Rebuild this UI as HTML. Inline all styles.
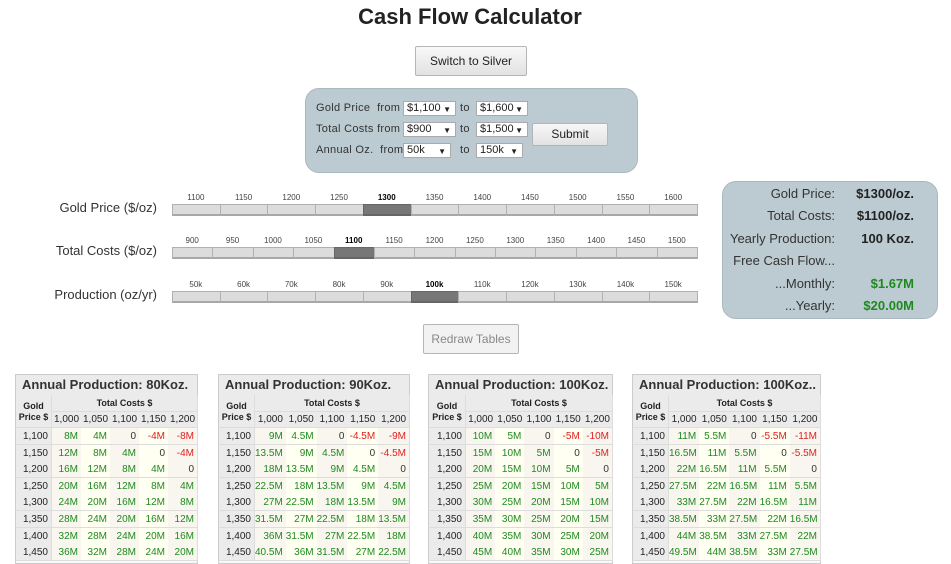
<!DOCTYPE html>
<html><head><meta charset="utf-8">
<style>
body{margin:0;width:951px;height:563px;overflow:hidden;background:#fff;font-family:"Liberation Sans",sans-serif;position:relative;color:#222}
.abs{position:absolute}
.btn{position:absolute;border:1px solid #b5b5b5;border-radius:2px;background:linear-gradient(#f8f8f8,#e2e2e2);font-size:12px;text-align:center;box-sizing:border-box}
.panel{position:absolute;background:#bccbd1;border:1px solid #a9b8be;border-radius:14px;box-sizing:border-box}
.sel{position:absolute;height:15px;border:1px solid #aaa;background:#fff;font-size:11px;box-sizing:border-box;padding:0 0 0 3px;line-height:13px}
.sel:after{content:"▼";position:absolute;right:4px;top:1px;font-size:8px}
.lbl{position:absolute;font-size:11px;color:#333;letter-spacing:.3px}
.slab{position:absolute;font-size:13px;color:#333;text-align:right;width:160px}
.seg{position:absolute;background:#dcdcdc;border:1px solid #b0b0b0;border-bottom:2px solid #a8a8a8;box-sizing:border-box}
.seg.on{background:#777;border-color:#666}
.tick{position:absolute;font-size:8px;color:#444;text-align:center;width:40px}
.tick.on{font-weight:bold;color:#000}
.sr{position:absolute;font-size:13px;color:#333}
.cell{position:absolute;box-sizing:border-box;border-right:1px solid #ddd;border-bottom:1px solid #ddd;font-size:11px;text-align:right;padding-right:3px;line-height:16px}
</style></head><body>
<div class="abs" style="left:0;width:940px;top:4px;text-align:center;font-size:22px;font-weight:bold;color:#222">Cash Flow Calculator</div>
<div class="btn" style="left:415px;top:46px;width:112px;height:30px;line-height:28px">Switch to Silver</div>

<div class="panel" style="left:305px;top:88px;width:333px;height:85px"></div>
<div class="lbl" style="left:316px;top:102px">Gold Price &nbsp;from</div>
<div class="sel" style="left:403px;top:101px;width:53px">$1,100</div>
<div class="lbl" style="left:460px;top:102px">to</div>
<div class="sel" style="left:476px;top:101px;width:52px">$1,600</div>
<div class="lbl" style="left:316px;top:123px">Total Costs from</div>
<div class="sel" style="left:403px;top:122px;width:53px">$900</div>
<div class="lbl" style="left:460px;top:123px">to</div>
<div class="sel" style="left:476px;top:122px;width:52px">$1,500</div>
<div class="lbl" style="left:316px;top:144px">Annual Oz. &nbsp;from</div>
<div class="sel" style="left:403px;top:143px;width:48px">50k</div>
<div class="lbl" style="left:460px;top:144px">to</div>
<div class="sel" style="left:476px;top:143px;width:47px">150k</div>
<div class="btn" style="left:532px;top:123px;width:76px;height:23px;line-height:21px">Submit</div>

<div class="slab" style="left:-3px;top:200px">Gold Price ($/oz)</div>
<div class="slab" style="left:-3px;top:243px">Total Costs ($/oz)</div>
<div class="slab" style="left:-3px;top:287px">Production (oz/yr)</div>
<div id="sliders"></div>

<div class="panel" style="left:722px;top:181px;width:216px;height:138px"></div>
<div id="summary"></div>

<div class="btn" style="left:423px;top:324px;width:96px;height:30px;line-height:28px;color:#888;background:#f2f2f2">Redraw Tables</div>
<div id="tables"></div>

<script>
// slider data
const goldTicks=["1100","1150","1200","1250","1300","1350","1400","1450","1500","1550","1600"];
const costTicks=["900","950","1000","1050","1100","1150","1200","1250","1300","1350","1400","1450","1500"];
const prodTicks=["50k","60k","70k","80k","90k","100k","110k","120k","130k","140k","150k"];
const goldSel=4, costSel=4, prodSel=5;
function slider(name,ticks,sel,y){
  const c=document.getElementById('sliders');
  const x0=172,x1=697,w=(x1-x0)/ticks.length;
  ticks.forEach((t,i)=>{
    const s=document.createElement('div');
    
    
    s.className='seg'+(i===sel?' on':'');
    s.style.cssText=`left:${x0+i*w}px;top:${y}px;width:${w+1}px;height:12px`;
    c.appendChild(s);
    const l=document.createElement('div');
    
    
    l.className='tick'+(i===sel?' on':'');
    l.textContent=t;
    l.style.cssText=`left:${x0+i*w+w/2-20}px;top:${y-11}px`;
    c.appendChild(l);
  });
}
slider('gold-price',goldTicks,goldSel,204);
slider('total-costs',costTicks,costSel,247);
slider('production',prodTicks,prodSel,291);

// summary
const sumLabels=["Gold Price:","Total Costs:","Yearly Production:","Free Cash Flow...","...Monthly:","...Yearly:"];
const sumValues=["$1300/oz.","$1100/oz.","100 Koz.","","$1.67M","$20.00M"];
const sc=document.getElementById('summary');
sumLabels.forEach((t,i)=>{
  const y=186+i*22.4;
  const a=document.createElement('div');
  
  
  a.className='sr';a.textContent=t;
  a.style.cssText=`left:700px;width:135px;text-align:right;top:${y}px`;
  sc.appendChild(a);
  const b=document.createElement('div');
  
  
  b.className='sr';b.textContent=sumValues[i];
  b.style.cssText=`left:820px;width:94px;text-align:right;top:${y}px;font-weight:bold;color:${i>=4?'#1e8a1e':'#222'}`;
  sc.appendChild(b);
});

// tables
const tablePrices=["1,100","1,150","1,200","1,250","1,300","1,350","1,400","1,450"];
const tableCosts=["1,000","1,050","1,100","1,150","1,200"];
const tableTitles=["Annual Production: 80Koz.","Annual Production: 90Koz.","Annual Production: 100Koz.","Annual Production: 100Koz.."];
const t1=[["8M","4M","0","-4M","-8M"],["12M","8M","4M","0","-4M"],["16M","12M","8M","4M","0"],["20M","16M","12M","8M","4M"],["24M","20M","16M","12M","8M"],["28M","24M","20M","16M","12M"],["32M","28M","24M","20M","16M"],["36M","32M","28M","24M","20M"]];
const t2=[["9M","4.5M","0","-4.5M","-9M"],["13.5M","9M","4.5M","0","-4.5M"],["18M","13.5M","9M","4.5M","0"],["22.5M","18M","13.5M","9M","4.5M"],["27M","22.5M","18M","13.5M","9M"],["31.5M","27M","22.5M","18M","13.5M"],["36M","31.5M","27M","22.5M","18M"],["40.5M","36M","31.5M","27M","22.5M"]];
const t3=[["10M","5M","0","-5M","-10M"],["15M","10M","5M","0","-5M"],["20M","15M","10M","5M","0"],["25M","20M","15M","10M","5M"],["30M","25M","20M","15M","10M"],["35M","30M","25M","20M","15M"],["40M","35M","30M","25M","20M"],["45M","40M","35M","30M","25M"]];
const t4=[["11M","5.5M","0","-5.5M","-11M"],["16.5M","11M","5.5M","0","-5.5M"],["22M","16.5M","11M","5.5M","0"],["27.5M","22M","16.5M","11M","5.5M"],["33M","27.5M","22M","16.5M","11M"],["38.5M","33M","27.5M","22M","16.5M"],["44M","38.5M","33M","27.5M","22M"],["49.5M","44M","38.5M","33M","27.5M"]];
const tableValues=[t1,t2,t3,t4];
const geo=[[15,52,197],[218,255,409],[428,466,612],[632,669,820]];
const tc=document.getElementById('tables');
function box(css,txt,name,extra){
  const d=document.createElement('div');
  
  
  d.className='cell';d.style.cssText=css;if(txt!==undefined)d.textContent=txt;
  tc.appendChild(d);return d;
}
tableValues.forEach((vals,ti)=>{
  const [x0,xg,x1]=geo[ti];const cw=(x1-xg)/5;
  const f=box(`left:${x0}px;top:374px;width:${x1-x0+1}px;height:190px;border:1px solid #ccc;background:#faf8f2`,'', 'production-table-'+(ti+1));
  box(`left:${x0}px;top:374px;width:${x1-x0+1}px;height:22px;border:1px solid #ccc;background:#ebebeb;font-size:13px;font-weight:bold;text-align:left;padding-left:6px;line-height:20px;color:#333;white-space:nowrap;overflow:hidden`,tableTitles[ti],'table-title');
  box(`left:${x0}px;top:395px;width:${xg-x0}px;height:33px;background:#ebebeb;font-size:9px;font-weight:bold;text-align:center;padding:0;line-height:11px;padding-top:6px;border-left:1px solid #ccc`,'Gold Price $','gold-price-header');
  box(`left:${xg}px;top:395px;width:${x1-xg+1}px;height:17px;background:#ebebeb;font-size:9px;font-weight:bold;text-align:center;padding:0;line-height:16px`,'Total Costs $','total-costs-header');
  tableCosts.forEach((c,ci)=>{
    box(`left:${xg+ci*cw}px;top:412px;width:${cw+1}px;height:16px;background:#ebebeb;font-size:10px;text-align:center;padding:0;line-height:16px`,c,'cost-column-header');
  });
  tablePrices.forEach((p,ri)=>{
    const y=428+ri*16.6;
    box(`left:${x0}px;top:${y}px;width:${xg-x0}px;height:17px;background:#ebebeb;font-size:10px;line-height:17px;border-left:1px solid #ccc`,p,'gold-price-row-header');
    vals[ri].forEach((v,ci)=>{
      const neg=v.startsWith('-'),zero=v==='0';
      const bg=(ci===1||ci===3)?'#fffff2':'#f9f6ef';
      box(`left:${xg+ci*cw}px;top:${y}px;width:${cw+1}px;height:17px;background:${bg};font-size:10px;line-height:17px;color:${neg?'#e02020':zero?'#333':'#1f8a1f'}`,v,'cash-flow-cell');
    });
  });
});
</script>
</body></html>
